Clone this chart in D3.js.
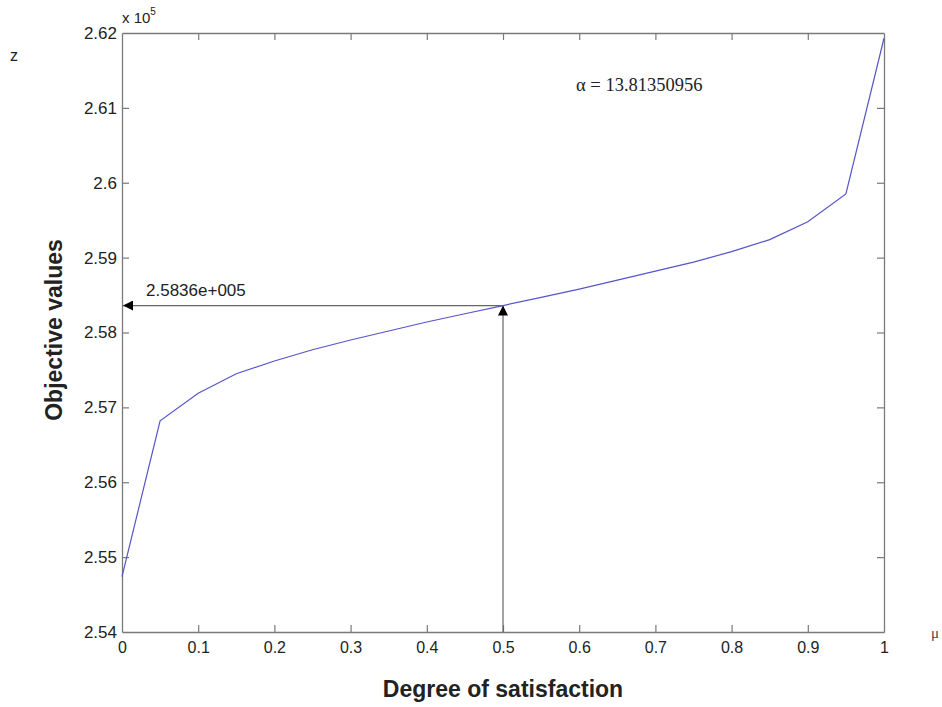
<!DOCTYPE html>
<html>
<head>
<meta charset="utf-8">
<script src="https://cdn.jsdelivr.net/npm/d3@7"></script>
<style>
  body { margin: 0; background: #fff; }
</style>
</head>
<body>
<div id="chart"></div>
<script>
// degree of satisfaction (mu) and objective values (x 10^5)
let mu = [0, 0.05, 0.1, 0.15, 0.2, 0.25, 0.3, 0.35, 0.4, 0.45, 0.5,
          0.55, 0.6, 0.65, 0.7, 0.75, 0.8, 0.85, 0.9, 0.95, 1];
let zValues = [2.5474, 2.5682, 2.5719, 2.5745, 2.5762, 2.5777, 2.5790, 2.5802, 2.5814, 2.5825, 2.5836,
               2.5847, 2.5858, 2.5870, 2.5882, 2.5894, 2.5908, 2.5924, 2.5948, 2.5985, 2.6193];
let xTicks = [0, 0.1, 0.2, 0.3, 0.4, 0.5, 0.6, 0.7, 0.8, 0.9, 1];
let yTicks = [2.54, 2.55, 2.56, 2.57, 2.58, 2.59, 2.6, 2.61, 2.62];
let markMu = 0.5;
let markZ = 2.5836;
let markLabel = "2.5836e+005";
let alphaLabel = "\u03b1 = 13.81350956";

let width = 942, height = 707;
let plotLeft = 122, plotRight = 884, plotTop = 33, plotBottom = 632;
let sans = "Arial, 'Liberation Sans', sans-serif";
let serif = "'Liberation Serif', 'Times New Roman', serif";

let svg = d3.select("#chart").append("svg")
    .attr("width", width)
    .attr("height", height);

let x = d3.scaleLinear().domain([0, 1]).range([plotLeft, plotRight]);
let y = d3.scaleLinear().domain([2.54, 2.62]).range([plotBottom, plotTop]);

let axisColor = "#7a7a7a";
let tickLen = 7;

// axes in matlab box style, ticks pointing inward
let xAxis = svg.append("g")
    .attr("transform", `translate(0,${plotBottom})`)
    .call(d3.axisBottom(x).tickValues(xTicks).tickSizeInner(-tickLen).tickSizeOuter(0).tickPadding(10).tickFormat(d => String(d)));
let xTop = svg.append("g")
    .attr("transform", `translate(0,${plotTop})`)
    .call(d3.axisTop(x).tickValues(xTicks).tickSizeInner(-tickLen).tickSizeOuter(0).tickFormat(""));
let yAxis = svg.append("g")
    .attr("transform", `translate(${plotLeft},0)`)
    .call(d3.axisLeft(y).tickValues(yTicks).tickSizeInner(-tickLen).tickSizeOuter(0).tickPadding(5).tickFormat(d => String(+d.toFixed(2))));
let yRight = svg.append("g")
    .attr("transform", `translate(${plotRight},0)`)
    .call(d3.axisRight(y).tickValues(yTicks).tickSizeInner(-tickLen).tickSizeOuter(0).tickFormat(""));

svg.selectAll(".domain").attr("stroke", axisColor).attr("stroke-width", 1.3);
svg.selectAll(".tick line").attr("stroke", axisColor).attr("stroke-width", 1.2);
svg.selectAll(".tick text")
    .attr("font-family", sans)
    .attr("fill", "#222");
xAxis.selectAll(".tick text").attr("font-size", 16);
yAxis.selectAll(".tick text").attr("font-size", 17);
// hide end ticks lying on the box edges
xAxis.selectAll(".tick line").filter(d => d === 0 || d === 1).remove();
xTop.selectAll(".tick line").filter(d => d === 0 || d === 1).remove();
yAxis.selectAll(".tick line").filter(d => d === 2.54 || d === 2.62).remove();
yRight.selectAll(".tick line").filter(d => d === 2.54 || d === 2.62).remove();

// exponent label
let expo = svg.append("text")
    .attr("x", plotLeft)
    .attr("y", 23)
    .attr("font-family", sans)
    .attr("fill", "#222")
    .attr("font-size", 15);
expo.append("tspan").text("x 10");
expo.append("tspan").attr("font-size", 10).attr("dy", -8).text("5");

// annotation arrows
let defs = svg.append("defs");
defs.append("marker")
    .attr("id", "arrow")
    .attr("viewBox", "0 0 10 10")
    .attr("refX", 10).attr("refY", 5)
    .attr("markerWidth", 10).attr("markerHeight", 10)
    .attr("markerUnits", "userSpaceOnUse")
    .attr("orient", "auto")
    .append("path")
    .attr("d", "M0,0 L10,5 L0,10 Z")
    .attr("fill", "#000");

svg.append("line")
    .attr("x1", x(markMu)).attr("y1", y(markZ))
    .attr("x2", x(0) + 1).attr("y2", y(markZ))
    .attr("stroke", "#666").attr("stroke-width", 1.2)
    .attr("marker-end", "url(#arrow)");
svg.append("line")
    .attr("x1", x(markMu)).attr("y1", y(2.54))
    .attr("x2", x(markMu)).attr("y2", y(markZ))
    .attr("stroke", "#666").attr("stroke-width", 1.2)
    .attr("marker-end", "url(#arrow)");

svg.append("text")
    .attr("x", x(0) + 24)
    .attr("y", y(markZ) - 10)
    .attr("font-family", sans)
    .attr("fill", "#222")
    .attr("font-size", 17)
    .text(markLabel);

// data line
let line = d3.line()
    .x((d, i) => x(mu[i]))
    .y(d => y(d));
svg.append("path")
    .datum(zValues)
    .attr("fill", "none")
    .attr("stroke", "#5555c8")
    .attr("stroke-width", 1.2)
    .attr("d", line);

svg.append("text")
    .attr("x", 576)
    .attr("y", 91)
    .attr("font-family", serif)
    .attr("fill", "#222")
    .attr("font-size", 18.5)
    .text(alphaLabel);

// axis titles
svg.append("text")
    .attr("x", (plotLeft + plotRight) / 2)
    .attr("y", 697)
    .attr("text-anchor", "middle")
    .attr("font-family", sans)
    .attr("fill", "#222")
    .attr("font-size", 23)
    .attr("font-weight", "bold")
    .text("Degree of satisfaction");

svg.append("text")
    .attr("transform", `translate(62,330) rotate(-90)`)
    .attr("text-anchor", "middle")
    .attr("font-family", sans)
    .attr("fill", "#222")
    .attr("font-size", 23)
    .attr("font-weight", "bold")
    .text("Objective values");

svg.append("text")
    .attr("x", 10)
    .attr("y", 61)
    .attr("font-family", sans)
    .attr("fill", "#222")
    .attr("font-size", 16)
    .text("z");

svg.append("text")
    .attr("x", 931)
    .attr("y", 638)
    .attr("font-family", serif)
    .attr("fill", "#444")
    .attr("font-size", 15)
    .text("\u03bc");
</script>
</body>
</html>
